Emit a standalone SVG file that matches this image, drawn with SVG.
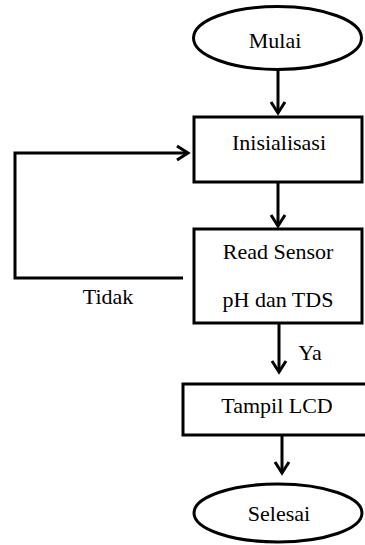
<svg xmlns="http://www.w3.org/2000/svg" width="365" height="545" viewBox="0 0 365 545">
  <style>
    .shape { fill: #ffffff; stroke: #000000; stroke-width: 3; }
    .label { font-family: "Liberation Serif", "Times New Roman", serif; font-size: 22px; fill: #000000; text-anchor: middle; dominant-baseline: central; }
    .edge { fill: none; stroke: #000000; stroke-width: 3; }
  </style>
  <defs>
    <!-- open chevron arrowhead -->
    <marker id="chevron" markerUnits="userSpaceOnUse" viewBox="-10 -10 20 20" markerWidth="20" markerHeight="20" refX="0" refY="0" orient="auto" overflow="visible">
      <path d="M -11 -7 L 0 0 L -11 7" fill="none" stroke="#000000" stroke-width="3"/>
    </marker>
  </defs>
  <rect width="365" height="545" fill="#ffffff"/>

  <g id="connectors">
    <line class="edge" x1="278" y1="70" x2="278" y2="113" marker-end="url(#chevron)"/>
    <line class="edge" x1="278" y1="182" x2="278" y2="226" marker-end="url(#chevron)"/>
    <line class="edge" x1="279" y1="323" x2="279" y2="372" marker-end="url(#chevron)"/>
    <line class="edge" x1="282" y1="435" x2="282" y2="473" marker-end="url(#chevron)"/>
    <!-- loop back from Read Sensor to Inisialisasi -->
    <polyline class="edge" points="183,278 15,278 15,153 188,153" marker-end="url(#chevron)"/>
    <text class="label" x="108" y="296">Tidak</text>
    <text class="label" x="310" y="352">Ya</text>
  </g>

  <g id="mulai">
    <ellipse class="shape" cx="277.5" cy="38" rx="84" ry="31.5"/>
    <text class="label" x="275" y="40">Mulai</text>
  </g>

  <g id="inisialisasi">
    <rect class="shape" x="194" y="117" width="168" height="65"/>
    <text class="label" x="279" y="142">Inisialisasi</text>
  </g>

  <g id="read-sensor">
    <rect class="shape" x="194" y="229" width="168" height="94"/>
    <text class="label" x="278" y="251">Read Sensor</text>
    <text class="label" x="278" y="299">pH dan TDS</text>
  </g>

  <g id="tampil-lcd">
    <rect class="shape" x="183" y="384" width="190" height="51"/>
    <text class="label" x="277" y="405">Tampil LCD</text>
  </g>

  <g id="selesai">
    <ellipse class="shape" cx="278" cy="513" rx="84" ry="29"/>
    <text class="label" x="279" y="513">Selesai</text>
  </g>
</svg>
